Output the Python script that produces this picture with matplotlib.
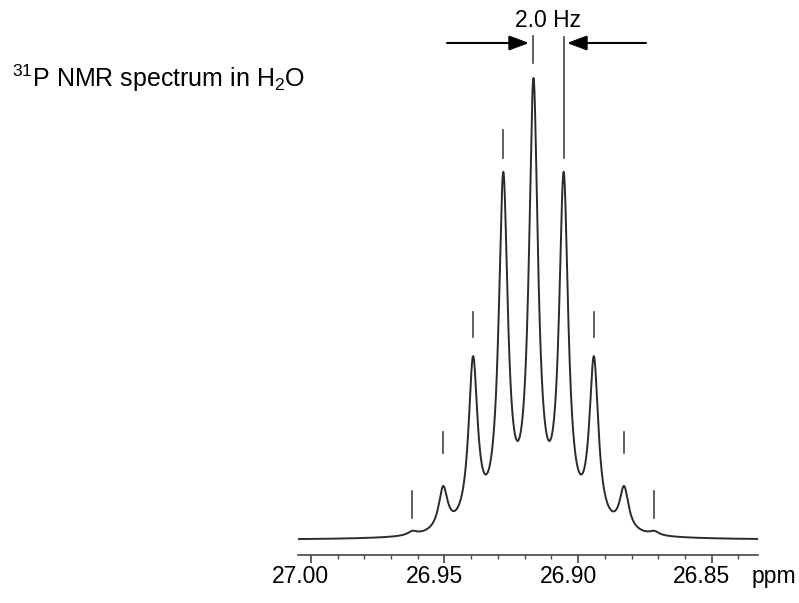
import numpy as np
import matplotlib
matplotlib.use('Agg')
import matplotlib.pyplot as plt
from matplotlib.transforms import ScaledTranslation

plt.rcParams['font.family'] = ['Liberation Sans', 'DejaVu Sans']
plt.rcParams['mathtext.default'] = 'regular'

pico_ppm = [26.962, 26.9505, 26.9393, 26.928, 26.9167, 26.9054, 26.8941, 26.8828, 26.8715]
pico_altura = [0.020, 0.117, 0.398, 0.797, 1.000, 0.797, 0.398, 0.117, 0.020]
ancho_ppm = 0.00205   # semi-ancho a media altura

# marcas verticales sobre cada pico (y inferior, y superior)
marca_inf = [0.048, 0.188, 0.439, 0.827, 1.032, 0.827, 0.439, 0.188, 0.048]
marca_sup = [0.106, 0.234, 0.494, 0.887, 1.091, 1.089, 0.494, 0.234, 0.106]

ticks_mayor = [27.00, 26.95, 26.90, 26.85]
etiquetas = ['27.00', '26.95', '26.90', '26.85']

# amplitudes individuales para que la suma de lorentzianas de las alturas observadas
p = np.array(pico_ppm)
M = 1.0 / (1.0 + ((p[:, None] - p[None, :]) / ancho_ppm) ** 2)
amp = np.linalg.solve(M, np.array(pico_altura))

x = np.linspace(27.0048, 26.8327, 3000)
y = (amp[None, :] / (1.0 + ((x[:, None] - p[None, :]) / ancho_ppm) ** 2)).sum(axis=1)

W, H = 799, 603
fig = plt.figure(figsize=(W / 100, H / 100), dpi=100)
ax = fig.add_axes([298 / W, (H - 555) / H, (758 - 298) / W, 555 / H])
ax.plot(x, y, color='#2b2b2b', lw=1.4)
ax.set_xlim(27.0048, 26.8327)
ax.set_ylim(-15 / 462, 540 / 462)

for xp, y0, y1 in zip(pico_ppm, marca_inf, marca_sup):
    ax.plot([xp, xp], [y0, y1], color='#444444', lw=1.2)

for s in ['top', 'right', 'left']:
    ax.spines[s].set_visible(False)
ax.spines['bottom'].set_color('#444444')
ax.spines['bottom'].set_linewidth(1.2)
ax.set_yticks([])
ax.set_xticks(ticks_mayor)
ax.set_xticklabels(etiquetas, fontsize=16.5)
ax.set_xticks(np.arange(26.84, 27.001, 0.01), minor=True)
ax.tick_params(axis='x', which='major', length=6, width=1.2, color='#444444', pad=1.5)
ax.tick_params(axis='x', which='minor', length=3, width=1.0, color='#444444')

# etiquetas un poco corridas a la izquierda como en el original
desplazamiento = ScaledTranslation(-10 / 100, 0, fig.dpi_scale_trans)
for lab in ax.get_xticklabels():
    lab.set_transform(lab.get_transform() + desplazamiento)

fig.text(752 / W, 1 - 583 / H, 'ppm', fontsize=16.5, va='baseline', ha='left')
fig.text(12 / W, 1 - 87 / H, '$^{31}$P NMR spectrum in H$_2$O', fontsize=18, va='baseline', ha='left')
fig.text(548 / W, 1 - 27 / H, '2.0 Hz', fontsize=16.5, va='baseline', ha='center')

# flechas del acoplamiento
y_fl = 1 - 43 / H
fig.add_artist(matplotlib.patches.FancyArrowPatch((447 / W, y_fl), (529 / W, y_fl), transform=fig.transFigure,
               arrowstyle='-|>,head_length=12,head_width=4.5', color='black', lw=1.5, shrinkA=0, shrinkB=0))
fig.add_artist(matplotlib.patches.FancyArrowPatch((646 / W, y_fl), (567 / W, y_fl), transform=fig.transFigure,
               arrowstyle='-|>,head_length=12,head_width=4.5', color='black', lw=1.5, shrinkA=0, shrinkB=0))

plt.savefig('out.png', dpi=100)
plt.close()
